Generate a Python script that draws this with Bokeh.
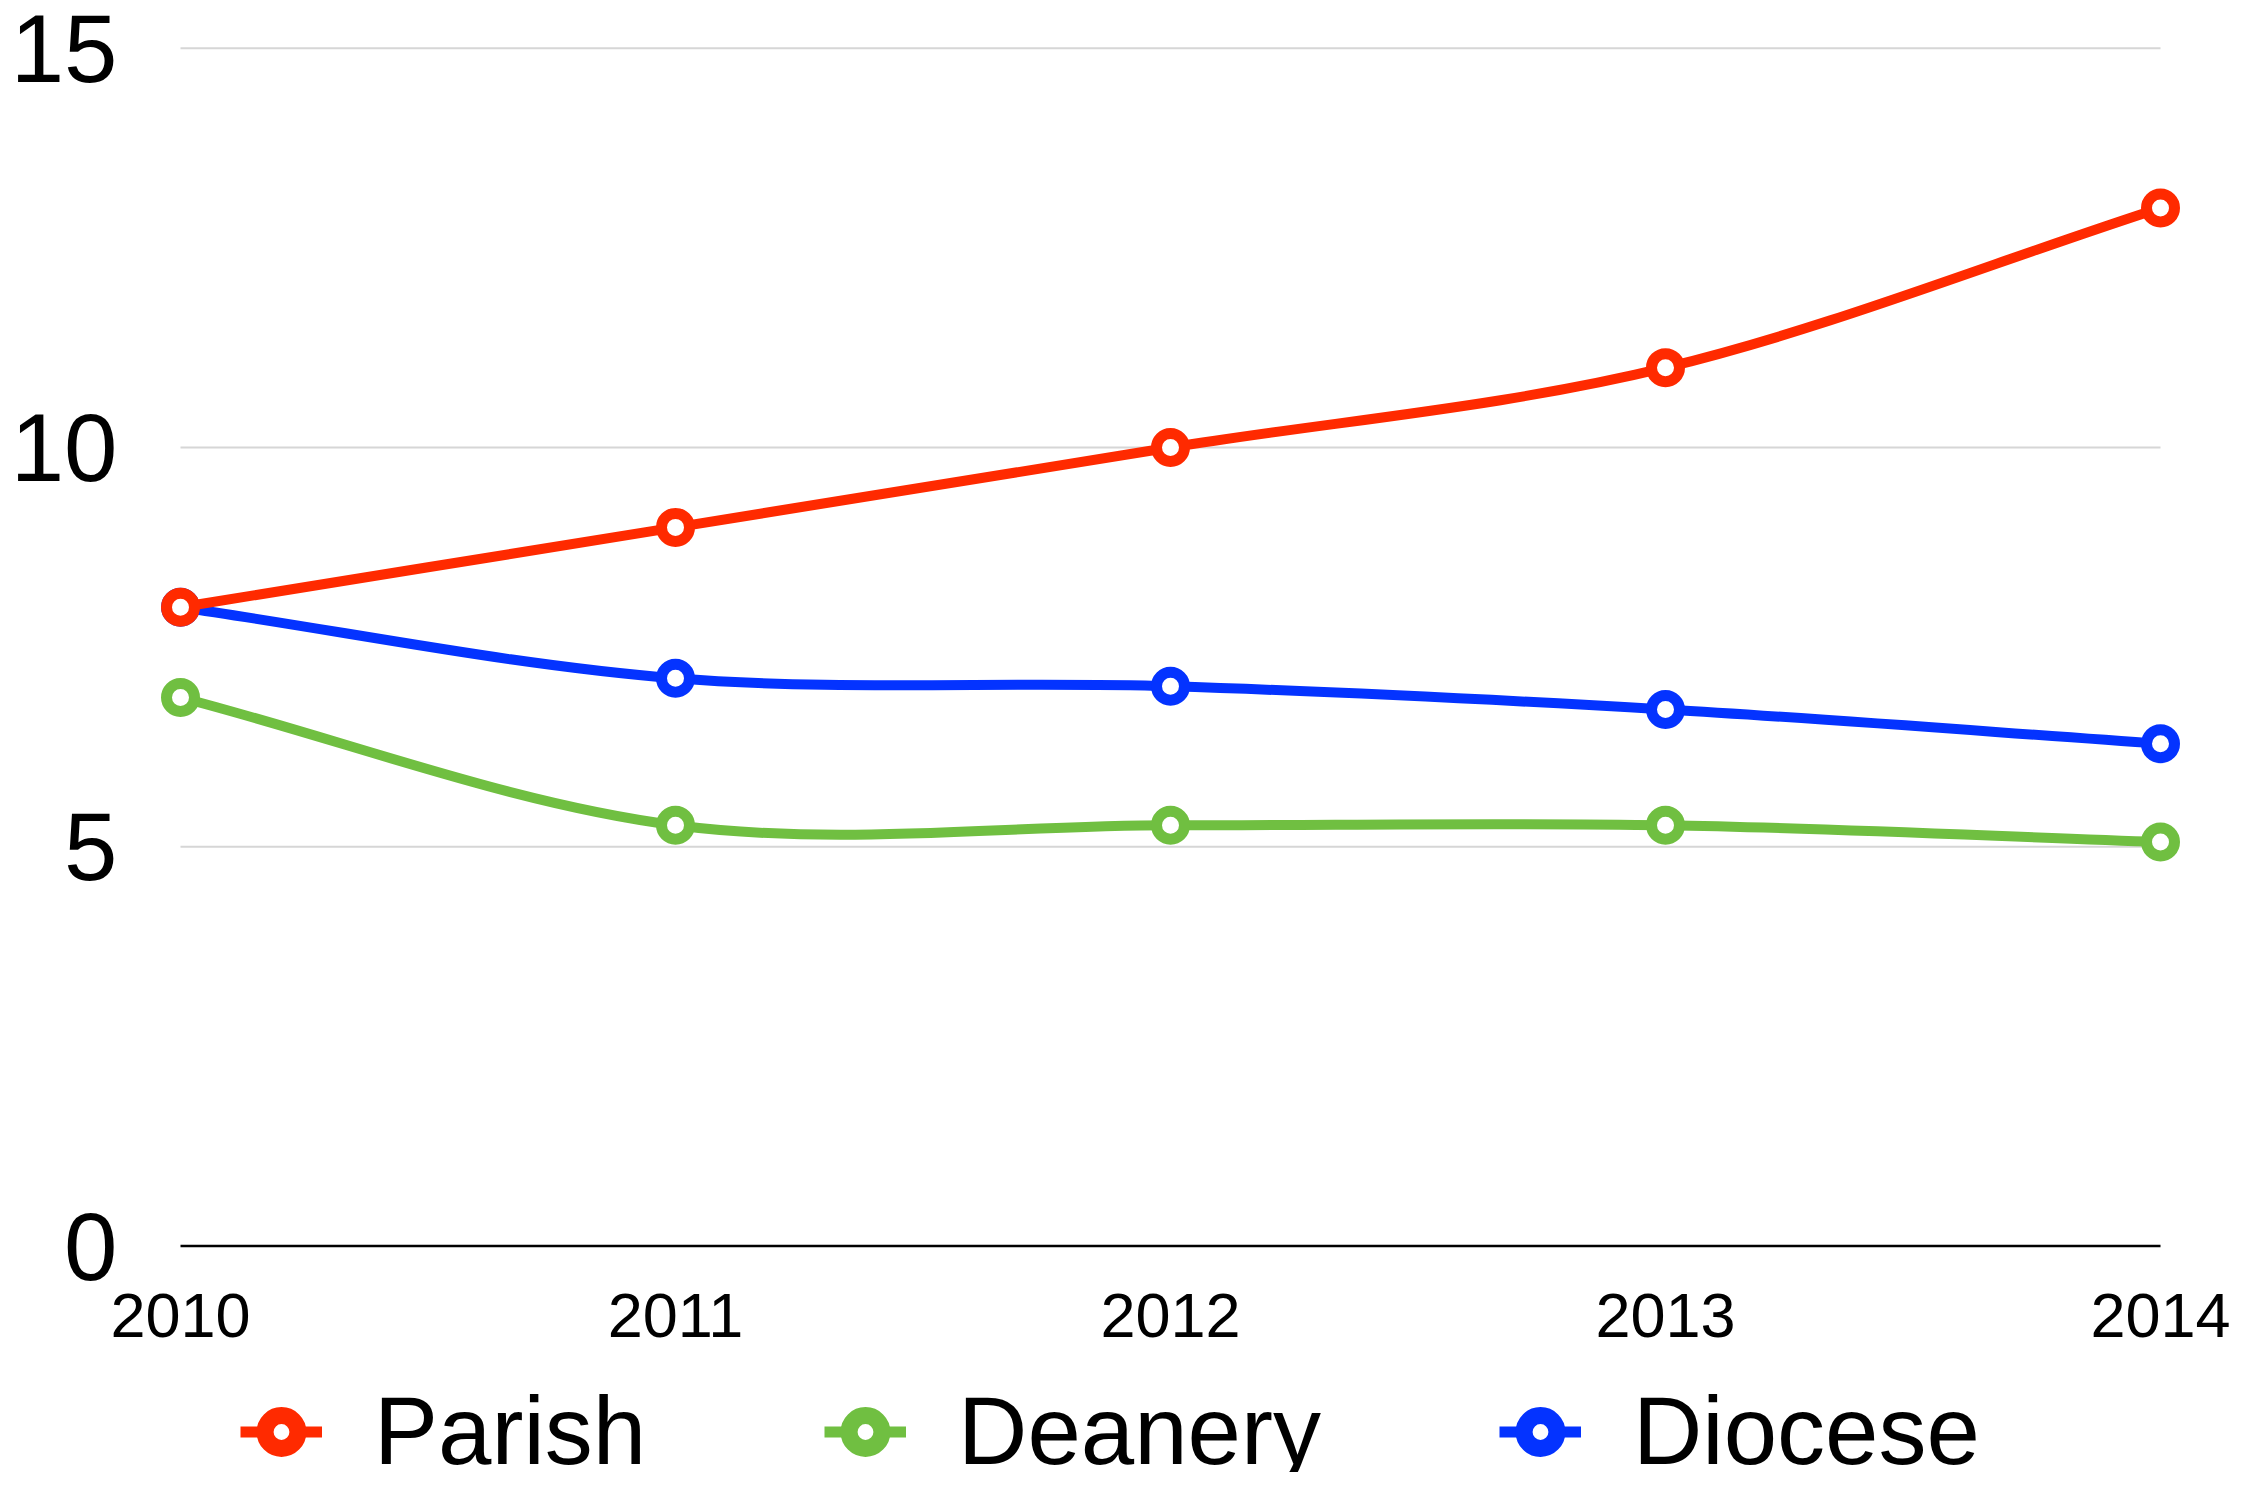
from bokeh.plotting import figure
from bokeh.models import Range1d, FixedTicker, Legend, LegendItem, ColumnDataSource
from bokeh.embed import file_html
from bokeh.resources import INLINE

# ---- data ----
years = [2010, 2011, 2012, 2013, 2014]
year_labels = ["2010", "2011", "2012", "2013", "2014"]
parish = [8.0, 9.0, 10.0, 11.0, 13.0]
deanery = [6.87, 5.27, 5.27, 5.27, 5.06]
diocese = [8.0, 7.11, 7.01, 6.72, 6.29]
series_names = ["Parish", "Deanery", "Diocese"]
y_ticks = [0, 5, 10, 15]

colors = {"Parish": "#FF2A00", "Deanery": "#70BF41", "Diocese": "#0433FF"}
values = {"Parish": parish, "Deanery": deanery, "Diocese": diocese}

FONT = "Liberation Sans"

W, H = 2239, 1472
p = figure(width=W, height=H, output_backend="svg", toolbar_location=None,
           x_range=Range1d(2010 - 80 / 495, 2014 + 79 / 495),
           y_range=Range1d(-2.835, 15.247),
           min_border_left=100, min_border_right=0,
           min_border_top=28, min_border_bottom=0)
p.outline_line_color = None
p.xgrid.visible = False
p.ygrid.visible = False
p.background_fill_color = "white"
p.border_fill_color = "white"

# axes
p.yaxis.ticker = FixedTicker(ticks=y_ticks)
p.yaxis.axis_line_color = None
p.yaxis.major_tick_line_color = None
p.yaxis.minor_tick_line_color = None
p.yaxis.major_tick_out = 0
p.yaxis.major_tick_in = 0
p.yaxis.major_label_standoff = -17
p.yaxis.major_label_text_font = FONT
p.yaxis.major_label_text_font_size = "96px"
p.yaxis.major_label_text_color = "black"

p.xaxis.fixed_location = 0
p.xaxis.ticker = FixedTicker(ticks=years)
p.xaxis.major_label_overrides = {y: l for y, l in zip(years, year_labels)}
p.xaxis.axis_line_color = None
p.xaxis.major_tick_line_color = None
p.xaxis.minor_tick_line_color = None
p.xaxis.major_tick_out = 0
p.xaxis.major_tick_in = 0
p.xaxis.major_label_standoff = 48
p.xaxis.major_label_text_font = FONT
p.xaxis.major_label_text_font_size = "63px"
p.xaxis.major_label_text_color = "black"

# grid lines spanning only the data extent
grid_y = [t for t in y_ticks if t > 0]
p.segment(x0=[years[0]] * len(grid_y), x1=[years[-1]] * len(grid_y),
          y0=grid_y, y1=grid_y, line_color="#d6d6d6", line_width=2)
p.segment(x0=[years[0]], x1=[years[-1]], y0=[0], y1=[0],
          line_color="black", line_width=2.5)


def bezier_parts(xs, ys):
    n = len(xs)
    m = []
    for i in range(n):
        if i == 0:
            m.append((ys[1] - ys[0]) / (xs[1] - xs[0]))
        elif i == n - 1:
            m.append((ys[-1] - ys[-2]) / (xs[-1] - xs[-2]))
        else:
            m.append((ys[i + 1] - ys[i - 1]) / (xs[i + 1] - xs[i - 1]))
    d = dict(x0=[], y0=[], x1=[], y1=[], cx0=[], cy0=[], cx1=[], cy1=[])
    for i in range(n - 1):
        h = xs[i + 1] - xs[i]
        d["x0"].append(xs[i]); d["y0"].append(ys[i])
        d["x1"].append(xs[i + 1]); d["y1"].append(ys[i + 1])
        d["cx0"].append(xs[i] + h / 3); d["cy0"].append(ys[i] + m[i] * h / 3)
        d["cx1"].append(xs[i + 1] - h / 3); d["cy1"].append(ys[i + 1] - m[i + 1] * h / 3)
    return d


legend_items = {}
for name in ["Diocese", "Deanery", "Parish"]:
    c = colors[name]
    ys = values[name]
    src = ColumnDataSource(dict(x=years, y=ys))
    bsrc = ColumnDataSource(bezier_parts(years, ys))
    p.bezier(x0="x0", y0="y0", x1="x1", y1="y1", cx0="cx0", cy0="cy0",
             cx1="cx1", cy1="cy1", source=bsrc, line_color=c, line_width=10,
             line_cap="round")
    p.scatter(x="x", y="y", source=src, marker="circle", size=28,
              fill_color="white", line_color=c, line_width=11)
    # legend-styled renderers (not shown in the plot area)
    lr = p.line(x="x", y="y", source=src, line_color=c, line_width=11, visible=False)
    sr = p.scatter(x="x", y="y", source=src, marker="circle", size=33,
                   fill_color="white", line_color=c, line_width=17, visible=False)
    legend_items[name] = LegendItem(label=name, renderers=[lr, sr])

legend = Legend(items=[legend_items[n] for n in series_names],
                orientation="horizontal", location=(140, -14),
                glyph_width=82, glyph_height=107, label_height=107,
                label_standoff=52, spacing=178, padding=0, margin=0,
                border_line_alpha=0, background_fill_alpha=0,
                label_text_font=FONT, label_text_font_size="96px",
                label_text_color="black", inactive_fill_alpha=0)
p.add_layout(legend, "center")

open("out.html", "w").write(file_html(p, INLINE))
